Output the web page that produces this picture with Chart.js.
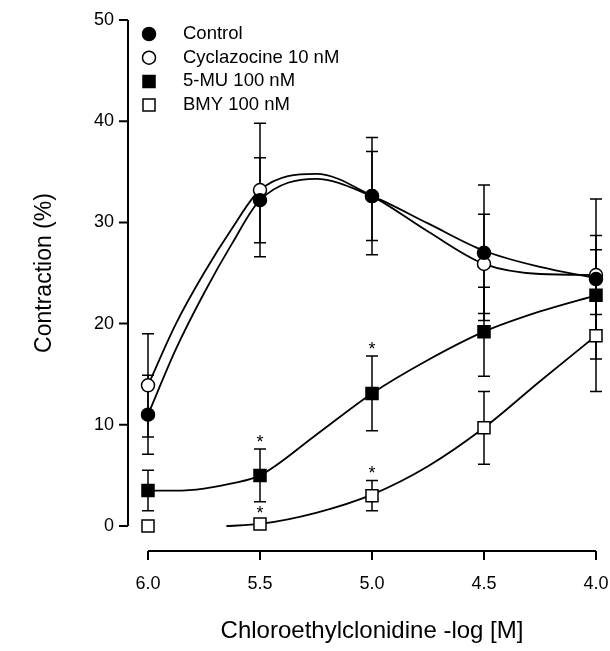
<!DOCTYPE html>
<html>
<head>
<meta charset="utf-8">
<script src="https://cdn.jsdelivr.net/npm/chart.js@4"></script>
<style>
  html, body { margin: 0; padding: 0; background: #fff; }
  #wrap { width: 610px; height: 651px; }
</style>
</head>
<body>
<div id="wrap"><canvas id="grafico"></canvas></div>
<script>
// doses (-log M) and tick labels
const doses = [6.0, 5.5, 5.0, 4.5, 4.0];
const xTicks = [6.0, 5.5, 5.0, 4.5, 4.0];
const xTickLabels = ['6.0', '5.5', '5.0', '4.5', '4.0'];
const yTicks = [0, 10, 20, 30, 40, 50];

// means and SEM
const controlMean = [11.0, 32.2, 32.6, 27.0, 24.4];
const controlSem = [3.9, 4.2, 4.4, 6.7, 7.9];
const cycMean = [13.9, 33.2, 32.6, 25.9, 24.8];
const cycSem = [5.1, 6.6, 5.8, 4.9, 3.9];
const muMean = [3.5, 5.0, 13.1, 19.2, 22.8];
const muSem = [2.0, 2.6, 3.7, 4.4, 4.5];
const bmyMean = [0.0, 0.2, 3.0, 9.7, 18.8];
const bmySem = [0, 0.4, 1.5, 3.6, 5.5];

// significance stars (*)
const muStar = [false, true, true, false, false];
const bmyStar = [false, true, true, false, false];

// fitted curves
const fitDoses = [6.0, 5.875, 5.75, 5.625, 5.5, 5.25, 5.0, 4.75, 4.5, 4.25, 4.0];
const controlFit = [11.0, 17.5, 23.0, 27.9, 32.2, 34.3, 32.6, 29.9, 27.2, 25.6, 24.5];
const cycFit = [13.9, 20.0, 25.0, 29.4, 33.2, 34.8, 32.6, 29.1, 25.9, 24.9, 24.8];
const muFit = [3.5, 3.5, 3.7, 4.2, 5.0, 9.0, 13.1, 16.4, 19.2, 21.2, 22.8];
const bmyFitDoses = [5.65, 5.5, 5.25, 5.0, 4.75, 4.5, 4.25, 4.0];
const bmyFit = [0.0, 0.2, 1.3, 3.1, 5.9, 9.7, 14.3, 18.8];

const fonte = '"Liberation Sans", Arial, sans-serif';

function pontos(xs, ys) {
  return xs.map((x, i) => ({ x: x, y: ys[i] }));
}

function serie(label, ys, sem, estilo, cheio, stars) {
  return {
    type: 'scatter',
    label: label,
    data: pontos(doses, ys),
    errors: sem,
    stars: stars || null,
    pointStyle: estilo,
    pointRadius: estilo === 'rect' ? 8.5 : 6.5,
    pointHoverRadius: estilo === 'rect' ? 8.5 : 6.5,
    pointBackgroundColor: cheio ? '#000' : '#fff',
    pointBorderColor: '#000',
    pointBorderWidth: 1.5,
    showLine: false,
    clip: false
  };
}

function curva(xs, ys) {
  return {
    type: 'line',
    label: '',
    data: pontos(xs, ys),
    borderColor: '#000',
    borderWidth: 1.8,
    pointRadius: 0,
    cubicInterpolationMode: 'monotone',
    fill: false,
    isFit: true,
    clip: false
  };
}

// error bars under the markers
const errorBars = {
  id: 'errorBars',
  beforeDatasetsDraw(chart) {
    const { ctx, scales: { x, y } } = chart;
    ctx.save();
    ctx.strokeStyle = '#000';
    ctx.lineWidth = 1.5;
    chart.data.datasets.forEach(ds => {
      if (!ds.errors) return;
      ds.data.forEach((p, i) => {
        const e = ds.errors[i];
        if (!e) return;
        const px = x.getPixelForValue(p.x);
        const top = y.getPixelForValue(p.y + e);
        const bot = y.getPixelForValue(p.y - e);
        ctx.beginPath();
        ctx.moveTo(px, top); ctx.lineTo(px, bot);
        ctx.moveTo(px - 6, top); ctx.lineTo(px + 6, top);
        ctx.moveTo(px - 6, bot); ctx.lineTo(px + 6, bot);
        ctx.stroke();
      });
    });
    ctx.restore();
  }
};

// detached axes, stars and the legend
const extras = {
  id: 'extras',
  afterDraw(chart) {
    const { ctx, chartArea, scales: { x, y } } = chart;
    ctx.save();
    ctx.strokeStyle = '#000';
    ctx.lineWidth = 2;

    const ax = chartArea.left - 20;
    ctx.beginPath();
    ctx.moveTo(ax, y.getPixelForValue(0));
    ctx.lineTo(ax, y.getPixelForValue(50));
    yTicks.forEach(v => {
      const py = y.getPixelForValue(v);
      ctx.moveTo(ax - 9, py); ctx.lineTo(ax, py);
    });
    ctx.stroke();

    const ay = chartArea.bottom + 25;
    ctx.beginPath();
    ctx.moveTo(x.getPixelForValue(6.0), ay);
    ctx.lineTo(x.getPixelForValue(4.0), ay);
    xTicks.forEach(v => {
      const px = x.getPixelForValue(v);
      ctx.moveTo(px, ay); ctx.lineTo(px, ay + 9);
    });
    ctx.stroke();

    // asterisks
    ctx.fillStyle = '#000';
    ctx.font = '18px ' + fonte;
    ctx.textAlign = 'center';
    ctx.textBaseline = 'middle';
    chart.data.datasets.forEach(ds => {
      if (!ds.stars) return;
      ds.data.forEach((p, i) => {
        if (!ds.stars[i]) return;
        const px = x.getPixelForValue(p.x);
        const py = y.getPixelForValue(p.y + ds.errors[i]);
        ctx.fillText('*', px, py - 6);
      });
    });

    // legend
    ctx.font = '18.5px ' + fonte;
    ctx.textAlign = 'left';
    let ly = 34;
    chart.data.datasets.forEach(ds => {
      if (ds.isFit) return;
      ctx.fillStyle = ds.pointBackgroundColor;
      ctx.strokeStyle = '#000';
      ctx.lineWidth = 1.5;
      Chart.helpers.drawPoint(ctx, {
        pointStyle: ds.pointStyle,
        radius: ds.pointStyle === 'rect' ? 8.5 : 6.5,
        rotation: 0,
        borderWidth: 1.5
      }, chartArea.left + 1, ly);
      ctx.fillStyle = '#000';
      ctx.fillText(ds.label, chartArea.left + 35, ly);
      ly += 23.7;
    });
    ctx.restore();
  }
};

const ctx = document.getElementById('grafico').getContext('2d');

new Chart(ctx, {
  type: 'scatter',
  data: {
    datasets: [
      serie('Control', controlMean, controlSem, 'circle', true),
      serie('Cyclazocine 10 nM', cycMean, cycSem, 'circle', false),
      serie('5-MU 100 nM', muMean, muSem, 'rect', true, muStar),
      serie('BMY 100 nM', bmyMean, bmySem, 'rect', false, bmyStar),
      curva(fitDoses, controlFit),
      curva(fitDoses, cycFit),
      curva(fitDoses, muFit),
      curva(bmyFitDoses, bmyFit)
    ]
  },
  options: {
    responsive: true,
    maintainAspectRatio: false,
    animation: false,
    layout: { padding: { left: 0, right: 14, top: 20, bottom: 0 } },
    plugins: {
      legend: { display: false },
      tooltip: { enabled: false }
    },
    scales: {
      x: {
        type: 'linear',
        min: 4.0,
        max: 6.0,
        reverse: true,
        afterFit: s => { s.height = 125; s.paddingLeft = 0; s.paddingRight = 0; },
        afterBuildTicks: s => { s.ticks = xTicks.map(v => ({ value: v })); },
        grid: { display: false, drawTicks: false },
        border: { display: false },
        ticks: {
          padding: 47,
          color: '#000',
          font: { family: fonte, size: 18 },
          callback: v => xTickLabels[xTicks.indexOf(v)]
        },
        title: {
          display: true,
          text: 'Chloroethylclonidine -log [M]',
          color: '#000',
          font: { family: fonte, size: 24 },
          padding: { top: 0, bottom: 5 }
        }
      },
      y: {
        min: 0,
        max: 50,
        afterFit: s => { s.width = 148; s.paddingTop = 0; s.paddingBottom = 0; },
        afterBuildTicks: s => { s.ticks = yTicks.map(v => ({ value: v })); },
        grid: { display: false, drawTicks: false },
        border: { display: false },
        ticks: {
          padding: 34,
          color: '#000',
          font: { family: fonte, size: 18 }
        },
        title: {
          display: true,
          text: 'Contraction (%)',
          color: '#000',
          font: { family: fonte, size: 23 },
          padding: { top: 31, bottom: 0 }
        }
      }
    }
  },
  plugins: [errorBars, extras]
});
</script>
</body>
</html>
